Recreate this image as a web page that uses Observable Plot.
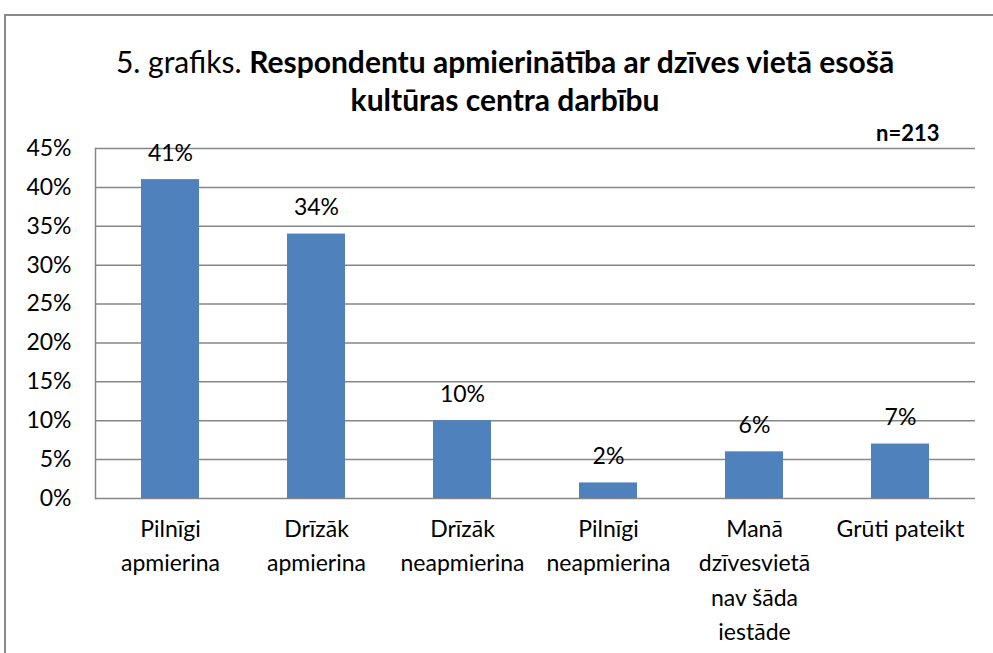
<!DOCTYPE html>
<html>
<head>
<meta charset="utf-8">
<script src="https://cdn.jsdelivr.net/npm/d3@7"></script>
<script src="https://cdn.jsdelivr.net/npm/@observablehq/plot@0.6"></script>
<style>
  html, body { margin: 0; padding: 0; background: #fff; }
  body { width: 993px; height: 653px; position: relative; overflow: hidden; font-family: Lato, "Open Sans", sans-serif; }
  #border { position: absolute; left: 4px; top: 14px; width: 1100px; height: 800px; border: 2px solid #8a8a8a; }
  #title { position: absolute; left: 0; top: 42px; width: 1010px; text-align: center; font-size: 30px; line-height: 38px; color: #000; }
  #title b { font-weight: bold; }
  #n { position: absolute; left: 876px; top: 119px; font-size: 22px; font-weight: bold; }
  #chart { position: absolute; left: 0; top: 0; }
</style>
</head>
<body>
<div id="border"></div>
<div id="title">5. grafiks. <b>Respondentu apmierinātība ar dzīves vietā esošā<br>kultūras centra darbību</b></div>
<div id="n">n=213</div>
<div id="chart"></div>
<script>
const categories = [
  "Pilnīgi\napmierina",
  "Drīzāk\napmierina",
  "Drīzāk\nneapmierina",
  "Pilnīgi\nneapmierina",
  "Manā\ndzīvesvietā\nnav šāda\niestāde",
  "Grūti pateikt"
];
const values = [41, 34, 10, 2, 6, 7];
const yTicks = [0, 5, 10, 15, 20, 25, 30, 35, 40, 45];

const data = categories.map((c, i) => ({category: c, value: values[i]}));

const chart = Plot.plot({
  width: 993,
  height: 653,
  marginLeft: 95,
  marginRight: 18,
  marginTop: 148,
  marginBottom: 155,
  style: {fontFamily: "Lato, 'Open Sans', sans-serif", fontSize: "23px", color: "#000", background: "transparent"},
  x: {domain: categories, paddingInner: 0.6, paddingOuter: 0.3, label: null},
  y: {domain: [0, 45], label: null},
  marks: [
    Plot.gridY(yTicks, {stroke: "#868686", strokeOpacity: 1, strokeWidth: 1.5}),
    Plot.frame({anchor: "left", stroke: "#868686", strokeWidth: 1.5}),
    Plot.barY(data, {x: "category", y: "value", fill: "#4F81BD"}),
    Plot.text(data, {x: "category", y: "value", text: d => d.value + "%", dy: -26, fontSize: 23, fill: "#000"}),
    Plot.axisY(yTicks, {tickSize: 0, tickPadding: 24, tickFormat: d => d + "%", fontSize: 23, label: null}),
    Plot.axisX({tickSize: 0, tickPadding: 14, fontSize: 23, lineHeight: 1.5, label: null})
  ]
});
document.getElementById("chart").appendChild(chart);
</script>
</body>
</html>
